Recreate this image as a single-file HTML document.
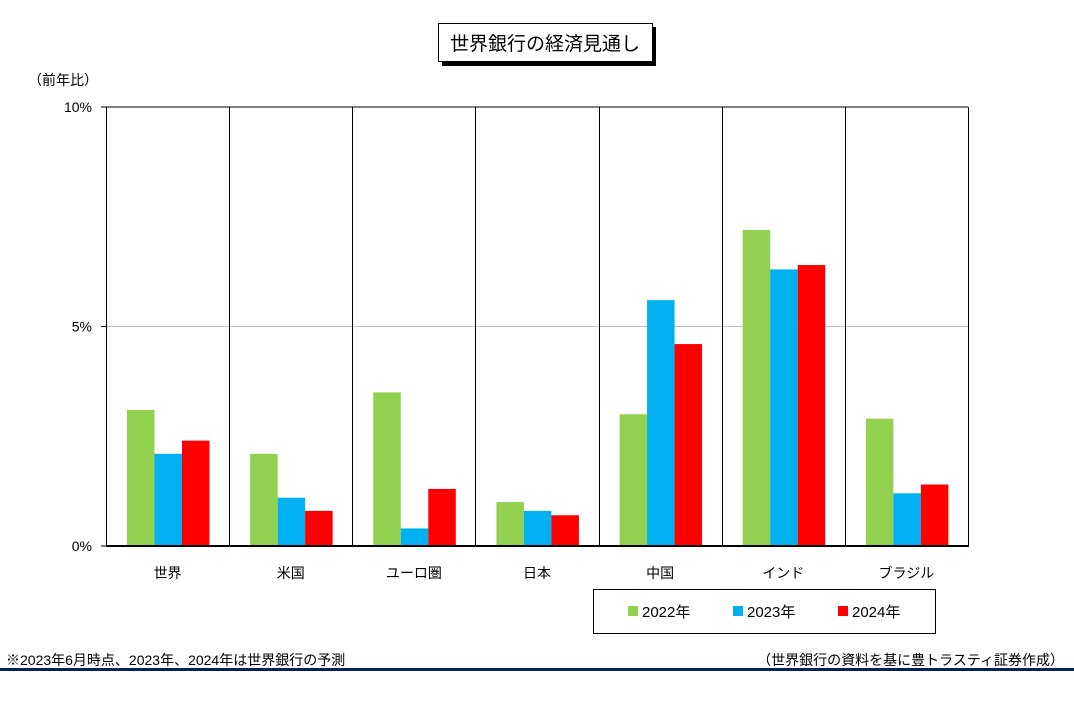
<!DOCTYPE html>
<html><head><meta charset="utf-8"><style>
body{margin:0;width:1074px;height:707px;background:#fff;overflow:hidden;font-family:"Liberation Sans","Noto Sans CJK JP",sans-serif;}
</style></head><body>
<svg id="chart" width="1074" height="707" xmlns="http://www.w3.org/2000/svg" style="font-family:'Liberation Sans','Noto Sans CJK JP',sans-serif">
<rect x="442" y="27" width="214" height="39" fill="#000"/>
<rect x="438.5" y="23.5" width="214" height="38" fill="#fff" stroke="#000"/>
<text x="545" y="50" text-anchor="middle" font-size="19">世界銀行の経済見通し</text>
<text x="28" y="85" font-size="14">（前年比）</text>
<g id="plot"></g>
<rect x="593.5" y="589.5" width="342" height="44" fill="#fff" stroke="#000"/>
<g id="legend"></g>
<text x="6" y="665" font-size="14">※2023年6月時点、2023年、2024年は世界銀行の予測</text>
<text x="1064" y="665" font-size="14" text-anchor="end">（世界銀行の資料を基に豊トラスティ証券作成）</text>
<rect x="0" y="668" width="1074" height="3" fill="#002060"/>
</svg>
<script>
const categories=["世界","米国","ユーロ圏","日本","中国","インド","ブラジル"];
const seriesNames=["2022年","2023年","2024年"];
const s2022=[3.1,2.1,3.5,1.0,3.0,7.2,2.9];
const s2023=[2.1,1.1,0.4,0.8,5.6,6.3,1.2];
const s2024=[2.4,0.8,1.3,0.7,4.6,6.4,1.4];
const yTicks=[0,5,10];
const yTickLabels=["0%","5%","10%"];
const NS="http://www.w3.org/2000/svg";
const X0=106,X1=968,Y0=546,Y1=107,YMAX=10;
const colors=["#92d050","#00b0f0","#ff0000"];
const g=document.getElementById('plot');
function y(v){return Y0-(v/YMAX)*(Y0-Y1);}
const gw=(X1-X0)/categories.length;
function mk(t,a){const e=document.createElementNS(NS,t);for(const k in a)e.setAttribute(k,a[k]);return e;}
yTicks.forEach((t,i)=>{
 if(t>0){const l=mk('line',{x1:X0,x2:X1,y1:y(t),y2:y(t),stroke:t===YMAX?'#000':'#bfbfbf'});
 
 g.appendChild(l);}
 const tx=mk('text',{x:X0-14,y:y(t)+5,'text-anchor':'end','font-size':14});tx.textContent=yTickLabels[i];
 
 g.appendChild(tx);
 const tk=mk('line',{x1:X0-5,x2:X0,y1:y(t),y2:y(t),stroke:'#000'});
 
 g.appendChild(tk);
});
for(let i=1;i<categories.length;i++){const x=Math.round(X0+gw*i)+0.5;
 const l=mk('line',{x1:x,x2:x,y1:Y1,y2:Y0,stroke:'#000'});
 
 g.appendChild(l);}
const l2=mk('line',{x1:X1+0.5,x2:X1+0.5,y1:Y1,y2:Y0,stroke:'#000'});

g.appendChild(l2);
const series=[s2022,s2023,s2024];
const bw=27.5;
categories.forEach((c,i)=>{
 const gx=X0+gw*i;
 series.forEach((s,j)=>{
  const r=mk('rect',{x:gx+21+bw*j,y:y(s[i]),width:bw,height:Y0-y(s[i]),fill:colors[j]});
  
  g.appendChild(r);
 });
 const t=mk('text',{x:gx+gw/2,y:578,'text-anchor':'middle','font-size':14});t.textContent=c;
 
 g.appendChild(t);
});
const ax=mk('line',{x1:X0+0.5,x2:X0+0.5,y1:Y1,y2:Y0,stroke:'#000'});

g.appendChild(ax);
const bx=mk('line',{x1:X0,x2:X1+1,y1:Y0,y2:Y0,stroke:'#000','stroke-width':2});

g.appendChild(bx);
const lg=document.getElementById('legend');
seriesNames.forEach((n,j)=>{
 const x=628+j*105;
 const r=mk('rect',{x:x,y:606,width:10,height:10,fill:colors[j]});
 
 lg.appendChild(r);
 const t=mk('text',{x:x+14,y:617,'font-size':15});t.textContent=n;
 
 lg.appendChild(t);
});
</script>
</body></html>
